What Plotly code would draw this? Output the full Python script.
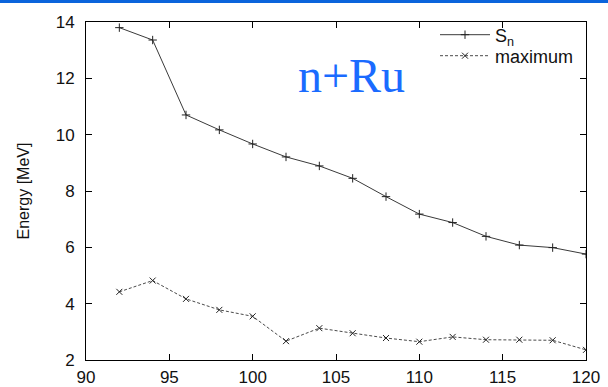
import plotly.graph_objects as go

# Mass numbers of the Ru isotopes
mass_number = [92, 94, 96, 98, 100, 102, 104, 106, 108, 110, 112, 114, 116, 118, 120]

# Neutron separation energy S_n [MeV]
s_n = [13.80, 13.36, 10.70, 10.17, 9.67, 9.21, 8.89, 8.45, 7.80, 7.18, 6.88, 6.39, 6.08, 5.99, 5.76]

# Energy of the maximum [MeV]
maximum = [4.42, 4.82, 4.17, 3.78, 3.55, 2.67, 3.13, 2.95, 2.78, 2.65, 2.82, 2.72, 2.72, 2.70, 2.36]

x_ticks = [90, 95, 100, 105, 110, 115, 120]
y_ticks = [2, 4, 6, 8, 10, 12, 14]

W, H = 608, 387
ML, MR, MT, MB = 86, 22, 22, 27
plot_w = W - ML - MR
plot_h = H - MT - MB

SANS = "Liberation Sans, Arial, sans-serif"

fig = go.Figure()
fig.add_trace(go.Scatter(
    x=mass_number, y=s_n, name="S<sub>n</sub>", mode="lines+markers",
    line=dict(color="#3a3a3a", width=1),
    marker=dict(symbol="cross-thin", size=6, line=dict(color="#222222", width=1)),
    legend="legend", showlegend=True,
))
fig.add_trace(go.Scatter(
    x=mass_number, y=maximum, name="maximum", mode="lines+markers",
    line=dict(color="#4a4a4a", width=1, dash="3px,2px"),
    marker=dict(symbol="x-thin", size=6, line=dict(color="#222222", width=1)),
    legend="legend2", showlegend=True,
))

axis_common = dict(
    showline=True, linecolor="black", linewidth=1, mirror="allticks",
    ticks="inside", ticklen=6, tickcolor="black", tickwidth=1,
    showgrid=False, zeroline=False, automargin=False,
    tickfont=dict(family=SANS, size=17, color="#111111"),
)
fig.update_xaxes(range=[90, 120], tickvals=x_ticks, ticklabelstandoff=2, **axis_common)
fig.update_yaxes(range=[2, 14], tickvals=y_ticks, ticklabelstandoff=7,
                 title=dict(text="Energy [MeV]", standoff=22,
                            font=dict(family=SANS, size=16, color="#111111")),
                 **axis_common)

# Blue strip along the top edge of the page
fig.add_shape(type="rect", xref="paper", yref="paper",
              x0=-ML / plot_w, x1=1 + MR / plot_w,
              y0=1 + (MT - 3) / plot_h, y1=1 + MT / plot_h,
              fillcolor="#0a64dc", line=dict(width=0), layer="above")

fig.add_annotation(text="n+Ru", xref="paper", yref="paper", x=0.531, y=0.843,
                   showarrow=False, xanchor="center", yanchor="middle",
                   font=dict(family="Liberation Serif, Times New Roman, serif", size=48, color="#1a6bff"))

legend_style = dict(xanchor="left", yanchor="middle", bgcolor="rgba(0,0,0,0)", visible=True,
                    itemwidth=50, font=dict(family=SANS, size=18, color="#111111"))
legend_x = (435 - ML) / plot_w

fig.update_layout(
    width=W, height=H,
    margin=dict(l=ML, r=MR, t=MT, b=MB, autoexpand=False),
    paper_bgcolor="white", plot_bgcolor="white",
    showlegend=True,
    legend=dict(x=legend_x, y=1 - (35 - MT) / plot_h, **legend_style),
    legend2=dict(x=legend_x, y=1 - (56 - MT) / plot_h, **legend_style),
)

fig.write_html("out.html")
